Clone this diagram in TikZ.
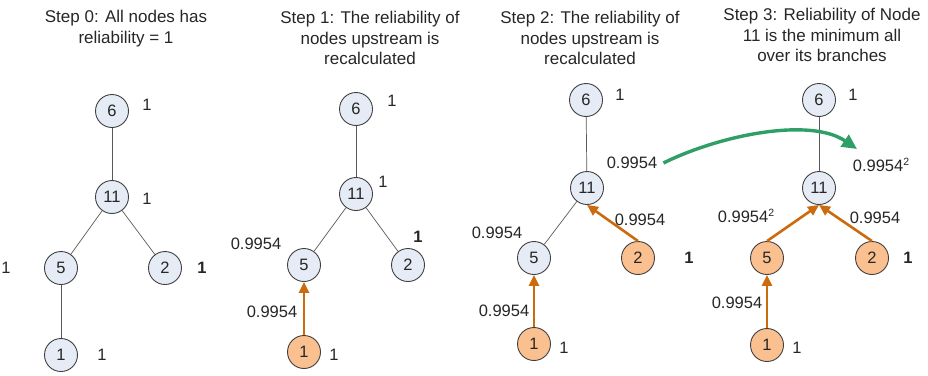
\documentclass[tikz,border=0pt]{standalone}
\usepackage{fontspec}
\setmainfont{Liberation Sans}
\usetikzlibrary{arrows.meta,positioning}
\definecolor{nodeblue}{HTML}{E6ECF6}
\definecolor{nodeorange}{HTML}{FAC08F}
\definecolor{floworange}{HTML}{CC6A0E}
\definecolor{jumpgreen}{HTML}{2F9E67}
\definecolor{txtgray}{HTML}{262626}
\tikzset{
nd/.style    = {draw=black!75, fill=nodeblue, circle, minimum size=33pt, inner sep=0pt, line width=0.9pt, text=txtgray, font=\fontsize{16.5}{16.5}\selectfont},
ndhot/.style = {nd, fill=nodeorange},
lbl/.style   = {inner sep=0pt, text=txtgray, font=\fontsize{16.5}{16.5}\selectfont},
lblb/.style  = {lbl, font=\fontsize{16.5}{16.5}\selectfont\bfseries},
ttl/.style   = {align=center, text=txtgray, font=\fontsize{17}{20.5}\selectfont},
link/.style  = {draw=black!65, line width=0.7pt},
flow/.style  = {draw=floworange, line width=2.6pt, -{Triangle[length=11pt,width=10pt]}},
jump/.style  = {draw=jumpgreen, line width=3.4pt, -{Triangle[length=15pt,width=14pt]}}
}
\newcommand{\sqw}{0.9954\raisebox{6.5pt}{\fontsize{10.5}{10.5}\selectfont 2}}

\begin{document}
\begin{tikzpicture}[x=1pt, y=-1pt]
  \useasboundingbox (0,0) rectangle (928,375);

  % step 0
  \node [ttl]            (t0)   at (126,28.5) {Step 0: All nodes has\\reliability = 1};
  \node [nd]             (a6)   at (112,111)  {6};
  \node [nd]             (a11)  at (112,197)  {11};
  \node [nd]             (a5)   at (61,268)   {5};
  \node [nd]             (a2)   at (165,268)  {2};
  \node [nd]             (a1)   at (61,355)   {1};
  \node [lbl]            (ar6)  at (147,105)  {1};
  \node [lbl]            (ar11) at (147,199)  {1};
  \node [lbl]            (ar5)  at (6,268)    {1};
  \node [lblb]           (ar2)  at (202,268)  {1};
  \node [lbl]            (ar1)  at (102,355)  {1};

  \draw [link] (a6) -- (a11);
  \draw [link] (a11) -- (a5);
  \draw [link] (a11) -- (a2);
  \draw [link] (a5) -- (a1);

  % step 1
  \node [ttl]            (t1)   at (370,38)   {Step 1: The reliability of\\nodes upstream is\\recalculated};
  \node [nd]             (b6)   at (356,109)  {6};
  \node [nd]             (b11)  at (356,194)  {11};
  \node [nd]             (b5)   at (304,265)  {5};
  \node [nd]             (b2)   at (408,265)  {2};
  \node [ndhot]          (b1)   at (304,352)  {1};
  \node [lbl]            (br6)  at (392,101)  {1};
  \node [lbl]            (br11) at (383,182)  {1};
  \node [lbl]            (br5)  at (256,244)  {0.9954};
  \node [lblb]           (br2)  at (418,237)  {1};
  \node [lbl]            (br1)  at (334,355)  {1};
  \node [lbl]            (bw15) at (272,312)  {0.9954};

  \draw [link] (b6) -- (b11);
  \draw [link] (b11) -- (b5);
  \draw [link] (b11) -- (b2);
  \draw [flow] (b1.north) -- (b5.south);

  % step 2
  \node [ttl]            (t2)   at (590,38)   {Step 2: The reliability of\\nodes upstream is\\recalculated};
  \node [nd]             (c6)   at (586,100)  {6};
  \node [nd]             (c11)  at (587,188)  {11};
  \node [nd]             (c5)   at (534,258)  {5};
  \node [ndhot]          (c2)   at (638,258)  {2};
  \node [ndhot]          (c1)   at (534,344)  {1};
  \node [lbl]            (cr6)  at (620,95)   {1};
  \node [lbl]            (cr11) at (632,163)  {0.9954};
  \node [lbl]            (cr5)  at (497,233)  {0.9954};
  \node [lblb]           (cr2)  at (689,258)  {1};
  \node [lbl]            (cr1)  at (564,348)  {1};
  \node [lbl]            (cw15) at (504,311)  {0.9954};
  \node [lbl]            (cw211) at (640,220) {0.9954};

  \draw [link] (c6) -- (c11);
  \draw [link] (c11) -- (c5);
  \draw [flow] (c1.north) -- (c5.south);
  \draw [flow] (c2.north) -- (c11.south);

  % step 3
  \node [ttl]            (t3)   at (822,35)   {Step 3: Reliability of Node\\11 is the minimum all\\over its branches};
  \node [nd]             (d6)   at (819,100)  {6};
  \node [nd]             (d11)  at (819,188)  {11};
  \node [ndhot]          (d5)   at (767,258)  {5};
  \node [ndhot]          (d2)   at (872,258)  {2};
  \node [ndhot]          (d1)   at (767,345)  {1};
  \node [lbl]            (dr6)  at (853,95)   {1};
  \node [lbl]            (dr11) at (881,165)  {\sqw};
  \node [lbl]            (dr5)  at (746,216)  {\sqw};
  \node [lblb]           (dr2)  at (908,258)  {1};
  \node [lbl]            (dr1)  at (797,348)  {1};
  \node [lbl]            (dw15) at (737,303)  {0.9954};
  \node [lbl]            (dw211) at (875,218) {0.9954};

  \draw [link] (d6) -- (d11);
  \draw [flow] (d1.north) -- (d5.south);
  \draw [flow] (d5.north) -- (d11.south);
  \draw [flow] (d2.north) -- (d11.south);

  % carry-over of the branch minimum
  \coordinate (gtip) at (857,149);
  \draw [jump] ([xshift=6pt]cr11.east) .. controls (720,135) and (810,117) .. (gtip);
\end{tikzpicture}
\end{document}
